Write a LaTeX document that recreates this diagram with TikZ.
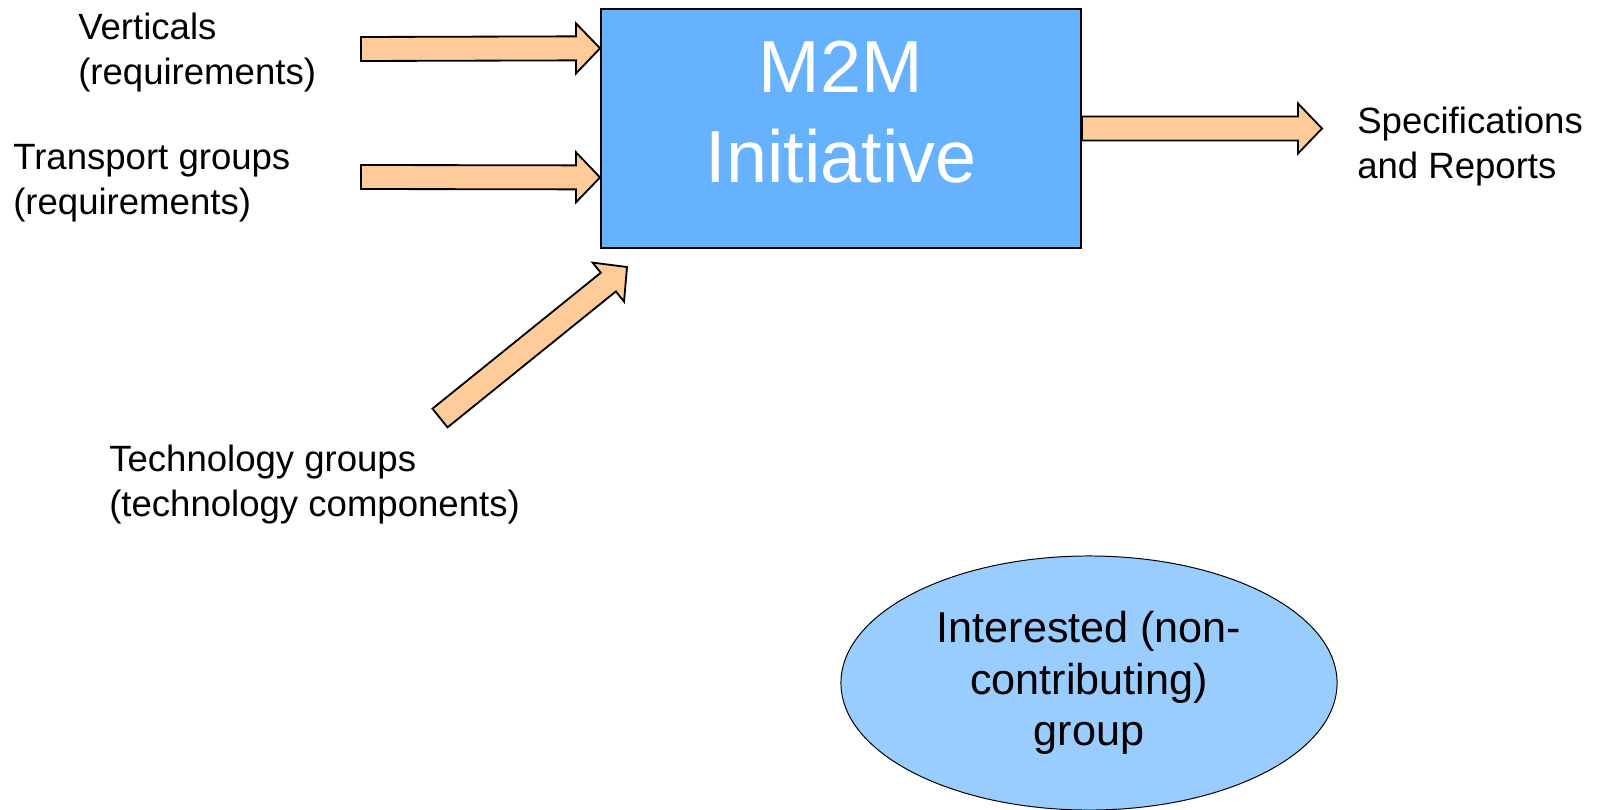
\documentclass[tikz,border=0pt]{standalone}
\usepackage{fontspec}
\setmainfont{Liberation Sans}
\usepackage{tikz}
\usetikzlibrary{calc,shapes.geometric}

\definecolor{boxblue}{RGB}{102,178,255}
\definecolor{ovalblue}{RGB}{153,204,255}
\definecolor{arrowtan}{RGB}{255,204,153}

\tikzset{
	fatarrow/.style={draw=black, line width=1.3pt, fill=arrowtan, line join=miter},
	label text/.style={anchor=west, align=left, inner sep=0pt, font=\fontsize{26}{32}\selectfont},
}

% block arrow from #1 (tail) to #2 (tip)
\newcommand{\fatarrowdraw}[2]{%
	\coordinate (hb) at ($(#2)!0.6cm!(#1)$);
	\draw[fatarrow] ($(#1)!0.3cm!90:(#2)$) -- ($(hb)!0.3cm!-90:(#1)$) -- ($(hb)!0.625cm!-90:(#1)$)
		-- (#2) -- ($(hb)!0.625cm!90:(#1)$) -- ($(hb)!0.3cm!90:(#1)$) -- ($(#1)!0.3cm!-90:(#2)$) -- cycle;
}

\begin{document}
\begin{tikzpicture}[x=0.025cm, y=-0.025cm]
		\useasboundingbox (0,0) rectangle (1597,809);

		\node[draw, line width=1.3pt, fill=boxblue, minimum width=12cm, minimum height=5.975cm, inner sep=0pt] (m2m) at (841,128.5) {};
		\node[text=white, align=center, font=\fontsize{52.5}{64}\selectfont] (title) at (841,112) {M2M\\Initiative};

		\node[draw, line width=0.7pt, fill=ovalblue, ellipse, minimum width=12.4cm, minimum height=6.35cm, inner sep=0pt,
			align=center, font=\fontsize{30.7}{36.5}\selectfont] (group) at (1089,683) {Interested (non-\\contributing)\\group};

		\node[label text] (verticals) at (78,53) {Verticals\\(requirements)};
		\node[label text] (transport) at (13,183) {Transport groups\\(requirements)};
		\node[label text] (techno) at (109,485) {Technology groups\\(technology components)};
		\node[label text] (specs) at (1357,147) {Specifications\\and Reports};

		\coordinate (vtail) at (361,49);
		\coordinate (ttail) at (361,177);
		\coordinate (ctail) at (440,418);
		\coordinate (ctip) at (627,267);
		\coordinate (stip) at (1322,128.5);

		\fatarrowdraw{vtail}{$(m2m.north west)!0.167!(m2m.south west)$}
		\fatarrowdraw{ttail}{$(m2m.north west)!0.703!(m2m.south west)$}
		\fatarrowdraw{ctail}{ctip}
		\fatarrowdraw{m2m.east}{stip}

	\end{tikzpicture}
\end{document}
